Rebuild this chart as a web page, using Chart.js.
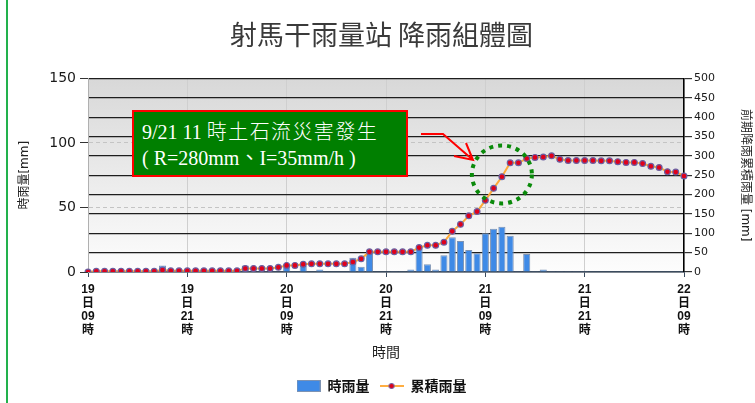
<!DOCTYPE html>
<html>
<head>
<meta charset="utf-8">
<script src="https://cdn.jsdelivr.net/npm/chart.js@4.4.1/dist/chart.umd.min.js"></script>
<style>
html, body { margin: 0; padding: 0; background: #fff; }
#wrap { position: relative; width: 755px; height: 403px; overflow: hidden; }
#frame { position: absolute; left: 6px; top: 0; width: 2px; height: 403px; background: #22b14c; }
#note {
    position: absolute; left: 132px; top: 110px; width: 276px; height: 67px;
    box-sizing: border-box; background: #007f00; border: 2px solid #ff0000;
    color: #fff; font: 20px "Liberation Serif", "Noto Sans CJK TC", serif;
    line-height: 26px; padding: 7px 0 0 8px; white-space: nowrap;
}
#note .zh { font-weight: 300; letter-spacing: 1.4px; }
</style>
</head>
<body>
<div id="wrap">
    <canvas id="rainChart" width="755" height="403"></canvas>
    <div id="frame"></div>
    <div id="note">9/21 11 <span class="zh">時土石流災害發生</span><br>( R=280mm、I=35mm/h )</div>
</div>
<script>
// tick labels (every 12 hours)
const tickDays = ['19', '19', '20', '20', '21', '21', '22'];
const tickHours = ['09', '21', '09', '21', '09', '21', '09'];

// hourly categories: 19日09時 ... 22日09時
const hours = [];
for (let i = 0; i <= 72; i++) hours.push(i);

// 時雨量 (mm)
const hourlyRain = [
    0, 0, 0, 0, 0, 0, 0, 0, 0, 5,
    0, 0, 0, 0, 0, 0, 0, 0, 0, 5,
    0, 0, 0, 0, 6, 0, 5, 0, 2, 0,
    0, 0, 11, 4, 16.5, 0, 0, 0.5, 0.5, 2,
    19, 6, 2, 13, 27, 24, 17, 14.5, 30, 33.5,
    35, 28, 0.5, 14, 0.5, 2, 0.5, 0.5, 0.5, 0.5,
    0.5, 0, 0, 0, 0, 0, 0, 0, 0, 0,
    0, 0, 0
];

// 累積雨量 (mm)
const cumulativeRain = [
    0, 2, 2, 2, 2, 2, 2, 2, 2, 5,
    3, 3, 3, 3, 3, 3, 3, 3, 3, 9,
    9, 9, 9, 12, 17, 17, 20, 21, 21, 21,
    21, 21, 26, 34, 52, 52, 52, 52, 52, 52,
    63, 69, 69, 77, 105, 123, 145, 156, 185, 216,
    246, 282, 282, 293, 296, 297, 300, 291, 288, 288,
    288, 288, 287, 287, 285, 283, 283, 280, 273, 270,
    259, 258, 248
];

Chart.defaults.font.family = '"DejaVu Sans", "Noto Sans CJK TC", sans-serif';
Chart.defaults.color = '#222';

// grey gradient behind the plot
const plotBackground = {
    id: 'plotBackground',
    beforeDraw(chart) {
        const {ctx, chartArea: a} = chart;
        const g = ctx.createLinearGradient(0, a.top, 0, a.bottom);
        g.addColorStop(0, '#d8d8d8');
        g.addColorStop(1, '#fdfdfd');
        ctx.save();
        ctx.fillStyle = g;
        ctx.fillRect(a.left, a.top, a.right - a.left, a.bottom - a.top);
        ctx.restore();
    }
};

// red arrow and green dotted ring
const marks = {
    id: 'marks',
    afterDatasetsDraw(chart) {
        const ctx = chart.ctx;
        const cx = chart.scales.x.getPixelForValue(50);
        const cy = chart.scales.y1.getPixelForValue(252);
        ctx.save();
        ctx.strokeStyle = '#0a8a0a';
        ctx.lineWidth = 4;
        ctx.setLineDash([4, 5]);
        ctx.beginPath();
        ctx.ellipse(cx, cy, 30, 29, 0, 0, Math.PI * 2);
        ctx.stroke();
        ctx.setLineDash([]);
        ctx.strokeStyle = '#ff0000';
        ctx.lineWidth = 2;
        ctx.beginPath();
        ctx.moveTo(421, 134);
        ctx.lineTo(443, 134);
        ctx.lineTo(473, 160);
        ctx.moveTo(466, 143);
        ctx.lineTo(473, 160);
        ctx.lineTo(454, 156);
        ctx.stroke();
        ctx.restore();
    }
};

function legendIcon(kind) {
    const c = document.createElement('canvas');
    c.width = 24; c.height = 12;
    const g = c.getContext('2d');
    if (kind === 'bar') {
        g.fillStyle = '#3f8ae6';
        g.fillRect(0.5, 0.5, 23, 11);
        g.strokeStyle = '#7d93b3';
        g.strokeRect(0.5, 0.5, 23, 11);
    } else {
        g.strokeStyle = '#ffae42';
        g.lineWidth = 2;
        g.beginPath(); g.moveTo(0, 6); g.lineTo(24, 6); g.stroke();
        g.fillStyle = '#e0001b';
        g.strokeStyle = '#6b5fa0';
        g.lineWidth = 1;
        g.beginPath(); g.arc(12, 6, 2.6, 0, Math.PI * 2); g.fill(); g.stroke();
    }
    return c;
}
const icons = [legendIcon('bar'), legendIcon('line')];

const ctx = document.getElementById('rainChart').getContext('2d');
new Chart(ctx, {
    type: 'bar',
    data: {
        labels: hours,
        datasets: [{
            type: 'bar',
            label: '時雨量',
            data: hourlyRain,
            yAxisID: 'y',
            backgroundColor: '#3f8ae6',
            borderColor: '#7d93b3',
            borderWidth: 1,
            barPercentage: 0.86,
            categoryPercentage: 1,
            order: 2
        }, {
            type: 'line',
            label: '累積雨量',
            data: cumulativeRain,
            yAxisID: 'y1',
            borderColor: '#ffa938',
            borderWidth: 2,
            pointBackgroundColor: '#e0001b',
            pointBorderColor: '#6b5fa0',
            pointBorderWidth: 1.2,
            pointRadius: 2.9,
            tension: 0,
            order: 1
        }]
    },
    options: {
        responsive: false,
        animation: false,
        layout: { padding: { left: 8 } },
        plugins: {
            tooltip: { enabled: false },
            title: {
                display: true,
                text: '射馬干雨量站 降雨組體圖',
                color: '#3a3a3a',
                font: { size: 27, weight: 'normal', family: '"Noto Sans CJK TC", sans-serif' },
                padding: { top: 19, bottom: 27 }
            },
            legend: {
                position: 'bottom',
                labels: {
                    usePointStyle: true,
                    pointStyleWidth: 24,
                    padding: 10,
                    color: '#111',
                    font: { size: 14, weight: 'bold', family: '"Noto Sans CJK TC", sans-serif' },
                    generateLabels: (chart) => chart.data.datasets.map((ds, i) => ({
                        text: ds.label,
                        pointStyle: icons[i],
                        datasetIndex: i,
                        fillStyle: 'transparent',
                        strokeStyle: 'transparent',
                        lineWidth: 0,
                        hidden: false,
                        fontColor: '#111'
                    }))
                }
            }
        },
        scales: {
            x: {
                offset: false,
                grid: {
                    offset: false,
                    color: (c) => c.index % 12 === 0 ? '#cfcfcf' : 'rgba(0,0,0,0)',
                    tickColor: (c) => c.index % 12 === 0 ? '#3b4b5e' : 'rgba(0,0,0,0)',
                    tickLength: 5
                },
                border: { color: '#3b4b5e', width: 1.5 },
                ticks: {
                    autoSkip: false,
                    maxRotation: 0,
                    padding: 6,
                    color: '#111',
                    font: { size: 12, weight: 'bold', family: '"Liberation Sans", "Noto Sans CJK TC", sans-serif', lineHeight: 1.13 },
                    callback: (v, i) => {
                        if (i % 12 !== 0) return '';
                        const k = i / 12;
                        return [tickDays[k], '日', tickHours[k], '時'];
                    }
                },
                title: {
                    display: true,
                    text: '時間',
                    color: '#222',
                    font: { size: 14 },
                    padding: { top: 4, bottom: 7 }
                },
                afterFit: (s) => { s.height = 97; }
            },
            y: {
                position: 'left',
                min: 0,
                max: 150,
                ticks: { stepSize: 50, padding: 4, color: '#1a1a1a', font: { size: 14 } },
                grid: {
                    color: (c) => (c.tick.value === 50 || c.tick.value === 100) ? '#c4c4c4' : 'rgba(0,0,0,0)',
                    tickColor: '#333',
                    tickLength: 8
                },
                border: { color: '#b0b0b0', dash: [4, 3] },
                title: {
                    display: true,
                    text: '時雨量[mm]',
                    color: '#222',
                    font: { size: 12 },
                    padding: { top: 10, bottom: 0 }
                },
                afterFit: (s) => { s.width = 80; }
            },
            y1: {
                position: 'right',
                min: 0,
                max: 500,
                ticks: { stepSize: 50, padding: 2, color: '#1a1a1a', font: { size: 11 } },
                grid: {
                    color: '#1e1e1e',
                    lineWidth: 1.2,
                    tickColor: '#333',
                    tickLength: 8
                },
                border: { color: '#000', width: 1.5 },
                title: {
                    display: true,
                    text: '前期降雨累積雨量 [mm]',
                    color: '#222',
                    font: { size: 12 },
                    padding: { top: 3, bottom: 0 }
                },
                afterFit: (s) => { s.width = 71; }
            }
        }
    },
    plugins: [plotBackground, marks]
});
</script>
</body>
</html>
